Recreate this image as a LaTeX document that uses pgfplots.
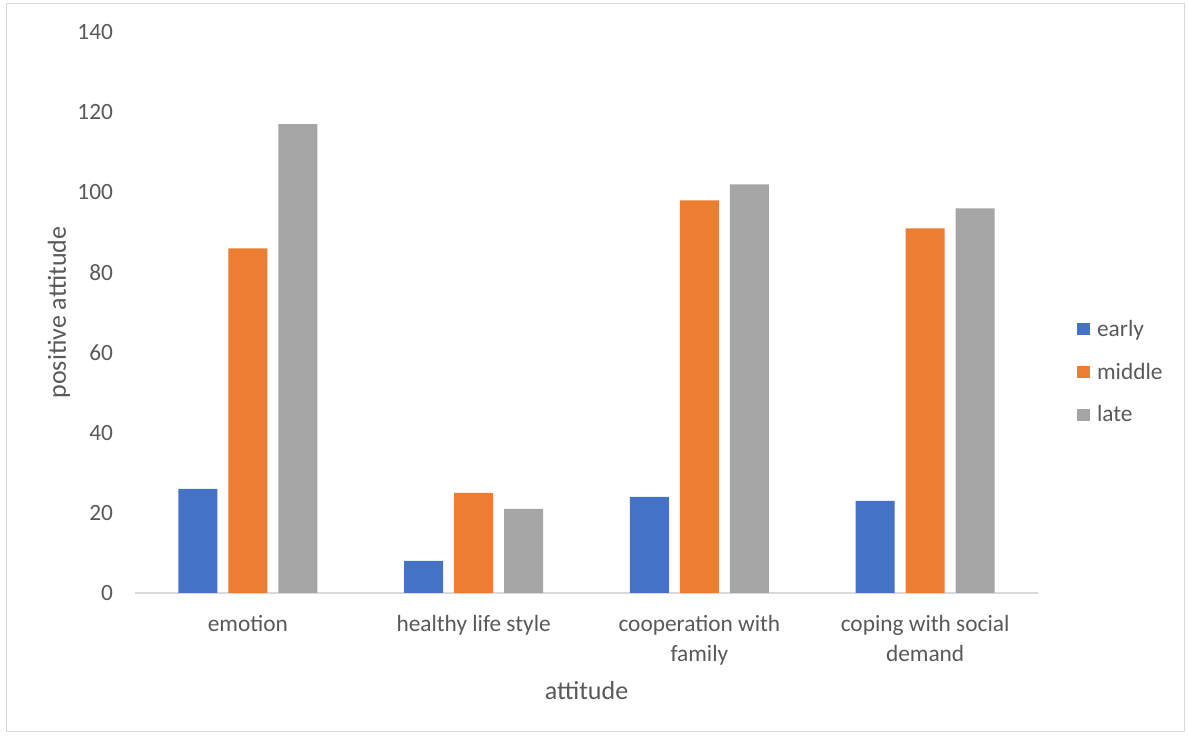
\documentclass[border=0pt]{standalone}
\usepackage{pgfplots}
\pgfplotsset{compat=1.18}
\usepackage{fontspec}
\setmainfont{Carlito}
\definecolor{cblue}{HTML}{4472C4}
\definecolor{corange}{HTML}{ED7D31}
\definecolor{cgray}{HTML}{A5A5A5}
\definecolor{ctext}{HTML}{595959}
\definecolor{cline}{HTML}{D9D9D9}
\begin{document}
\begin{tikzpicture}
\useasboundingbox (0pt,0pt) rectangle (891pt,551.25pt);
\draw[cline, line width=0.75pt] (4.5pt,3pt) rectangle (888pt,548.25pt);
\begin{axis}[
  at={(101.25pt,106.5pt)}, anchor=south west,
  width=677.25pt, height=420.75pt, scale only axis,
  xmin=-0.5, xmax=3.5, ymin=0, ymax=140,
  ytick={0,20,...,140},
  xtick={0,1,2,3},
  xticklabels={emotion, healthy life style, {cooperation with\\family}, {coping with social\\demand}},
  ybar=8.25pt, bar width=29.25pt,
  axis x line*=bottom, axis y line*=left,
  x axis line style={draw=cline, line width=1pt, -},
  y axis line style={draw=none},
  major tick length=0pt,
  ticklabel style={font=\fontsize{17.5}{22.5}\selectfont, text=ctext},
  xticklabel style={align=center, anchor=north, yshift=-13pt},
  yticklabel style={anchor=east, xshift=-13pt},
  /pgf/number format/assume math mode=true,
  xlabel={attitude}, ylabel={positive attitude},
  label style={font=\fontsize{19.5}{22}\selectfont, text=ctext},
  xlabel style={at={(axis description cs:0.5,0)}, anchor=center, yshift=-73.5pt},
  ylabel style={at={(axis description cs:0,0.5)}, anchor=center, yshift=57pt},
  legend style={at={(1.043,0.394)}, anchor=west, draw=none, fill=none,
    font=\fontsize{17.5}{20}\selectfont, text=ctext, row sep=14.5pt, inner sep=0pt},
  legend cell align=left,
  legend image code/.code={\fill[#1] (0pt,-4.5pt) rectangle (9.5pt,4.5pt);},
  clip=false,
]
\addplot[fill=cblue, draw=none] coordinates {(0,26) (1,8) (2,24) (3,23)};
\addplot[fill=corange, draw=none] coordinates {(0,86) (1,25) (2,98) (3,91)};
\addplot[fill=cgray, draw=none] coordinates {(0,117) (1,21) (2,102) (3,96)};
\legend{\hspace{3.5pt}early, \hspace{3.5pt}middle, \hspace{3.5pt}late}
\end{axis}
\end{tikzpicture}
\end{document}
